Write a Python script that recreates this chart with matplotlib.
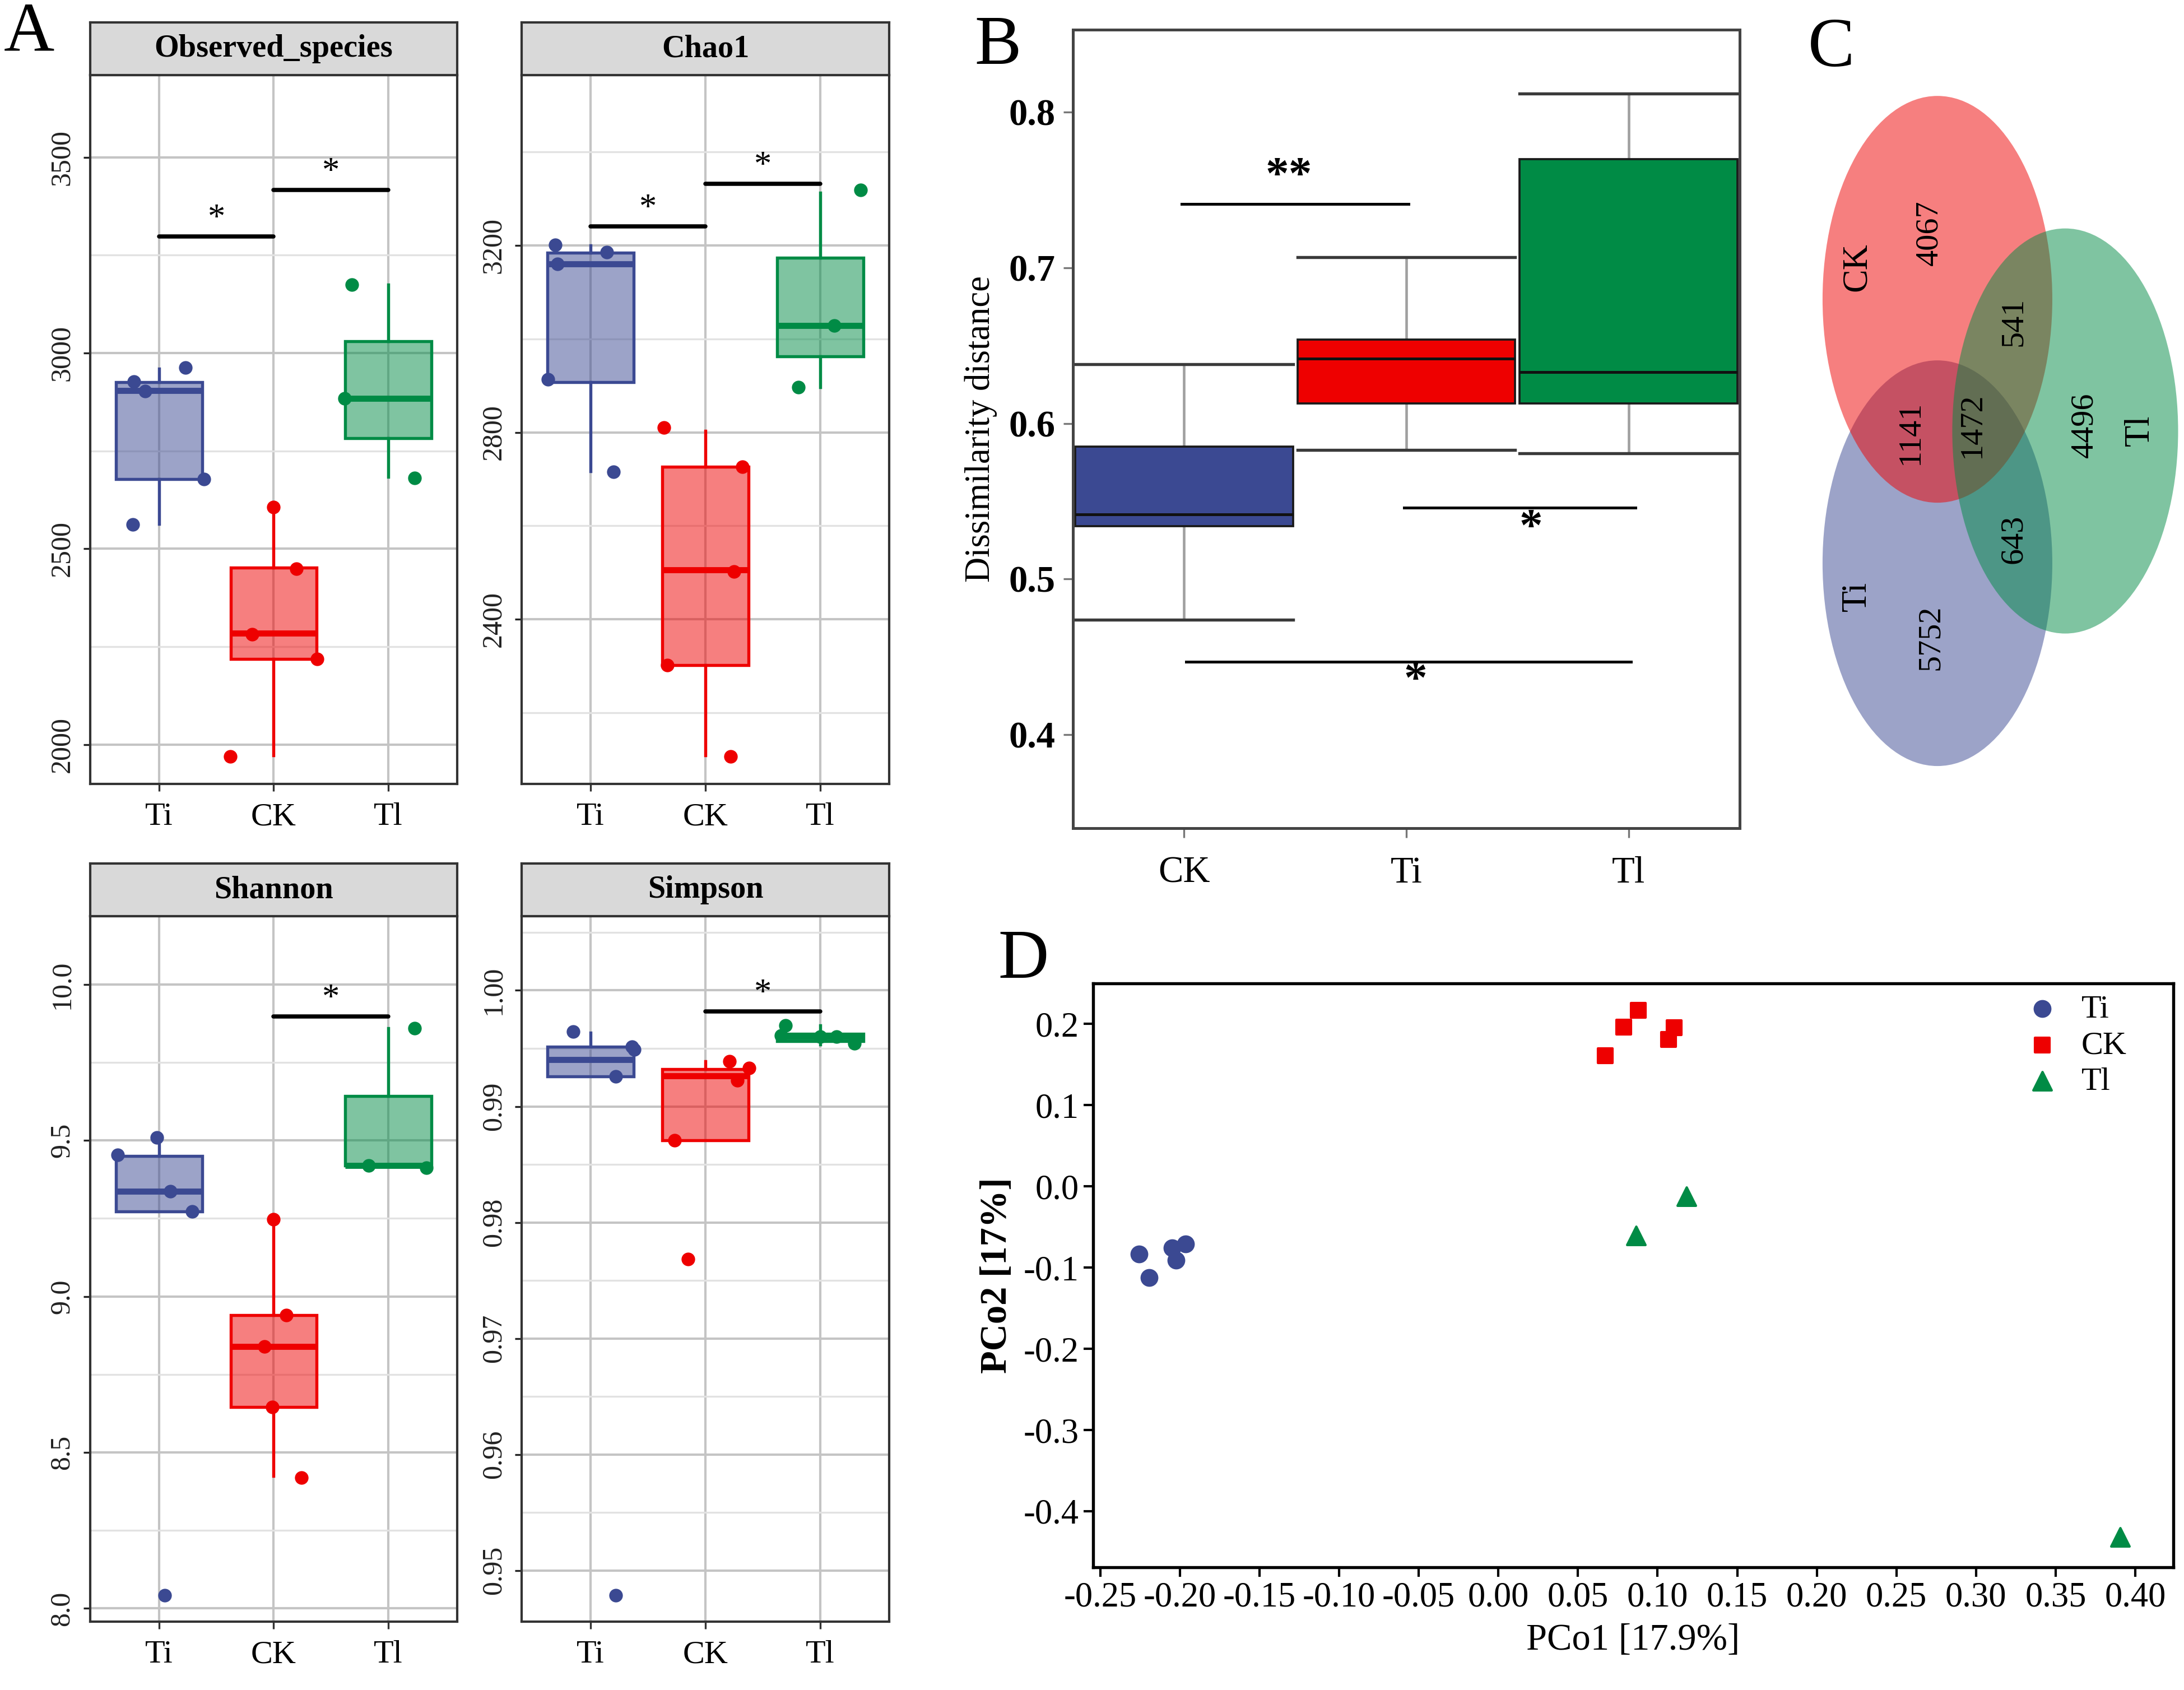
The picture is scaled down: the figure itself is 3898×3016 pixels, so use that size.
import matplotlib
matplotlib.use('Agg')
import matplotlib.pyplot as plt
from matplotlib.patches import Ellipse
from matplotlib.colors import to_rgba

plt.rcParams['font.family'] = ['Liberation Serif', 'DejaVu Serif']
plt.rcParams['axes.unicode_minus'] = False

# ---- colours (AAAS-like) ----
BLUE, RED, GREEN = '#3B4992', '#EE0000', '#008B45'

# ---- panel A: alpha diversity (order Ti, CK, Tl) ----
groups_a = ['Ti', 'CK', 'Tl']
colors_a = [BLUE, RED, GREEN]

obs_q1 = [2678, 2219, 2782]
obs_med = [2904, 2284, 2884]
obs_q3 = [2925, 2451, 3030]
obs_lo = [2564, 1972, 2684]
obs_hi = [2960, 2606, 3174]
obs_pts = [[2927, 2903, 2962, 2678, 2562], [2606, 2449, 2281, 2218, 1970], [3174, 2884, 2681]]
obs_jit = [[-0.22, -0.12, 0.23, 0.39, -0.23], [0.0, 0.20, -0.19, 0.38, -0.38], [-0.32, -0.38, 0.23]]
obs_sig = [(0, 1, 3297), (1, 2, 3416)]

chao_q1 = [2908, 2301, 2963]
chao_med = [3161, 2506, 3029]
chao_q3 = [3184, 2726, 3174]
chao_lo = [2717, 2108, 2897]
chao_hi = [3200, 2803, 3313]
chao_pts = [[3201, 3186, 3161, 2913, 2715], [2810, 2726, 2502, 2301, 2106], [3319, 3029, 2897]]
chao_jit = [[-0.31, 0.14, -0.29, -0.37, 0.20], [-0.36, 0.32, 0.25, -0.33, 0.22], [0.35, 0.12, -0.19]]
chao_sig = [(0, 1, 3241), (1, 2, 3332)]

shan_q1 = [9.273, 8.646, 9.420]
shan_med = [9.337, 8.840, 9.420]
shan_q3 = [9.451, 8.941, 9.642]
shan_lo = [9.273, 8.424, 9.420]
shan_hi = [9.505, 9.248, 9.859]
shan_pts = [[9.509, 9.453, 9.337, 9.273, 8.043], [9.248, 8.941, 8.840, 8.646, 8.420], [9.859, 9.420, 9.413]]
shan_jit = [[-0.02, -0.36, 0.10, 0.29, 0.05], [0.0, 0.11, -0.08, -0.01, 0.24], [0.23, -0.17, 0.33]]
shan_sig = [(1, 2, 9.898)]

simp_q1 = [0.99257, 0.98710, 0.99565]
simp_med = [0.99402, 0.99262, 0.99603]
simp_q3 = [0.99514, 0.99322, 0.99626]
simp_lo = [0.99257, 0.98710, 0.99533]
simp_hi = [0.99636, 0.99388, 0.99696]
simp_pts = [[0.99645, 0.99514, 0.99490, 0.99260, 0.94785],
            [0.99388, 0.99332, 0.99224, 0.98710, 0.97682],
            [0.99696, 0.99603, 0.99542, 0.99610, 0.99603]]
simp_jit = [[-0.15, 0.36, 0.38, 0.22, 0.22], [0.21, 0.38, 0.28, -0.27, -0.15], [-0.30, 0.14, 0.30, -0.34, 0.0]]
simp_sig = [(1, 2, 0.99818)]

# ---- panel B: dissimilarity distance (order CK, Ti, Tl) ----
groups_b = ['CK', 'Ti', 'Tl']
colors_b = [BLUE, RED, GREEN]
dist_q1 = [0.534, 0.613, 0.613]
dist_med = [0.5417, 0.6417, 0.633]
dist_q3 = [0.585, 0.654, 0.770]
dist_lo = [0.474, 0.583, 0.581]
dist_hi = [0.638, 0.707, 0.812]
dist_sig = [(-0.01, 1.01, 0.741, 0.47, 0.758, '**'),
            (0.99, 2.03, 0.546, 1.56, 0.532, '*'),
            (0.01, 2.01, 0.447, 1.04, 0.434, '*')]

# ---- panel C: Venn counts ----
venn_sets = ['CK', 'Tl', 'Ti']
venn_counts = {'CK': 4067, 'CK_Tl': 541, 'CK_Ti': 1141, 'all': 1472,
               'Tl': 4496, 'Ti_Tl': 643, 'Ti': 5752}

# ---- panel D: PCoA ----
pcoa_ti_x = [-0.2255, -0.2193, -0.2050, -0.2025, -0.1963]
pcoa_ti_y = [-0.0836, -0.1127, -0.0760, -0.0910, -0.0712]
pcoa_ck_x = [0.0670, 0.0787, 0.0880, 0.1070, 0.1104]
pcoa_ck_y = [0.1610, 0.1960, 0.2167, 0.1808, 0.1950]
pcoa_tl_x = [0.0864, 0.1180, 0.3906]
pcoa_tl_y = [-0.0607, -0.0124, -0.4320]

W, H = 3898, 3016
fig = plt.figure(figsize=(W / 300, H / 300), dpi=300, facecolor='white')


def alpha_panel(rect, title, q1, med, q3, lo, hi, pts, jit, sig, ylim, yticks, minor, fmt):
    ax = fig.add_axes(rect)
    stats = [dict(q1=q1[i], med=med[i], q3=q3[i], whislo=lo[i], whishi=hi[i], fliers=[])
             for i in range(3)]
    bp = ax.bxp(stats, positions=[0, 1, 2], widths=0.75, patch_artist=True,
                showcaps=False, showfliers=False)
    for i, c in enumerate(colors_a):
        bp['boxes'][i].set(facecolor=to_rgba(c, 0.5), edgecolor=c, linewidth=1.3, zorder=2)
        bp['medians'][i].set(color=c, linewidth=2.6, zorder=3)
        for w in bp['whiskers'][2 * i:2 * i + 2]:
            w.set(color=c, linewidth=1.3, zorder=1.9)
        ax.scatter([i + j for j in jit[i]], pts[i], s=34, color=c, zorder=4, linewidths=0)
    rng = ylim[1] - ylim[0]
    for a, b, y in sig:
        ax.plot([a, b], [y, y], color='black', lw=1.8, solid_capstyle='round', zorder=5)
        ax.text((a + b) / 2, y + 0.012 * rng, '*', ha='center', va='baseline', fontsize=15)
    ax.set_xlim(-0.6, 2.6)
    ax.set_ylim(*ylim)
    ax.set_yticks(yticks)
    ax.set_yticklabels([fmt.format(v) for v in yticks])
    ax.set_yticks(minor, minor=True)
    ax.set_xticks([0, 1, 2])
    ax.set_xticklabels(groups_a)
    ax.grid(True, which='major', color='#C4C4C4', lw=1.0, zorder=0)
    ax.grid(True, which='minor', axis='y', color='#E2E2E2', lw=0.8, zorder=0)
    ax.set_axisbelow(True)
    ax.tick_params(axis='y', which='minor', length=0)
    ax.tick_params(axis='both', which='major', length=3, color='#333333', labelsize=14)
    ax.tick_params(axis='x', pad=5)
    ax.tick_params(axis='y', labelrotation=90, labelsize=12, colors='#222222')
    for lab in ax.get_yticklabels():
        lab.set_va('center')
    for s in ax.spines.values():
        s.set_color('#333333')
        s.set_linewidth(1.0)
    # strip on top
    sx = fig.add_axes([rect[0], rect[1] + rect[3], rect[2], 0.031])
    sx.set_facecolor('#D9D9D9')
    sx.set_xticks([])
    sx.set_yticks([])
    for s in sx.spines.values():
        s.set_color('#333333')
        s.set_linewidth(1.0)
    sx.text(0.5, 0.5, title, ha='center', va='center', fontsize=13.5, fontweight='bold',
            transform=sx.transAxes)
    return ax


alpha_panel([0.0413, 0.5361, 0.1680, 0.4195], 'Observed_species', obs_q1, obs_med, obs_q3,
            obs_lo, obs_hi, obs_pts, obs_jit, obs_sig, (1899, 3710),
            [2000, 2500, 3000, 3500], [2250, 2750, 3250], '{:.0f}')
alpha_panel([0.2389, 0.5361, 0.1682, 0.4195], 'Chao1', chao_q1, chao_med, chao_q3,
            chao_lo, chao_hi, chao_pts, chao_jit, chao_sig, (2047, 3565),
            [2400, 2800, 3200], [2200, 2600, 3000, 3400], '{:.0f}')
alpha_panel([0.0413, 0.0405, 0.1680, 0.4174], 'Shannon', shan_q1, shan_med, shan_q3,
            shan_lo, shan_hi, shan_pts, shan_jit, shan_sig, (7.958, 10.219),
            [8.0, 8.5, 9.0, 9.5, 10.0], [8.25, 8.75, 9.25, 9.75], '{:.1f}')
alpha_panel([0.2389, 0.0405, 0.1682, 0.4174], 'Simpson', simp_q1, simp_med, simp_q3,
            simp_lo, simp_hi, simp_pts, simp_jit, simp_sig, (0.9456, 1.0064),
            [0.95, 0.96, 0.97, 0.98, 0.99, 1.00], [0.955, 0.965, 0.975, 0.985, 0.995, 1.005],
            '{:.2f}')

# ---- B ----
axb = fig.add_axes([0.4913, 0.510, 0.3053, 0.4724])
stats_b = [dict(q1=dist_q1[i], med=dist_med[i], q3=dist_q3[i], whislo=dist_lo[i],
                whishi=dist_hi[i], fliers=[]) for i in range(3)]
bpb = axb.bxp(stats_b, positions=[0, 1, 2], widths=0.98, patch_artist=True,
              showfliers=False, capwidths=0.98)
for i, c in enumerate(colors_b):
    bpb['boxes'][i].set(facecolor=c, edgecolor='#1a1a1a', linewidth=0.9, zorder=2)
    bpb['medians'][i].set(color='#111111', linewidth=1.2, zorder=3)
    for w in bpb['whiskers'][2 * i:2 * i + 2]:
        w.set(color='#A0A0A0', linewidth=1.1, zorder=1)
    for cp in bpb['caps'][2 * i:2 * i + 2]:
        cp.set(color='#3a3a3a', linewidth=1.3)
for x0, x1, y, tx, ty, lab in dist_sig:
    axb.plot([x0, x1], [y, y], color='black', lw=1.2)
    axb.text(tx, ty, lab, ha='center', va='center', fontsize=20, fontweight='bold')
axb.set_xlim(-0.5, 2.5)
axb.set_ylim(0.34, 0.853)
axb.set_xticks([0, 1, 2])
axb.set_xticklabels(groups_b, fontsize=16)
axb.set_yticks([0.4, 0.5, 0.6, 0.7, 0.8])
axb.set_yticklabels(['0.4', '0.5', '0.6', '0.7', '0.8'], fontsize=16, fontweight='bold')
axb.tick_params(axis='both', length=4, color='#777777')
axb.tick_params(axis='x', pad=8)
axb.set_ylabel('Dissimilarity distance', fontsize=15, labelpad=5)
for s in axb.spines.values():
    s.set_color('#444444')
    s.set_linewidth(1.2)

# ---- C: Venn ----
axc = fig.add_axes([0.8286, 0.5391, 0.1714, 0.4111])
axc.set_xlim(0, 668)
axc.set_ylim(1240, 0)
axc.axis('off')
venn_geom = {'Ti': ((228, 855), 410, 724, BLUE),
             'CK': ((228, 384), 410, 726, RED),
             'Tl': ((456, 619), 403, 723, GREEN)}
for name in ['Ti', 'CK', 'Tl']:
    (cx, cy), w, h, c = venn_geom[name]
    axc.add_patch(Ellipse((cx, cy), w, h, facecolor=to_rgba(c, 0.5), edgecolor='none'))
venn_text_pos = {'CK': (213, 266), 'CK_Tl': (364, 424), 'CK_Ti': (180, 622), 'all': (290, 609),
                 'Tl': (490, 609), 'Ti_Tl': (364, 812), 'Ti': (216, 988)}
for k, (x, y) in venn_text_pos.items():
    axc.text(x, y, str(venn_counts[k]), rotation=90, ha='center', va='center', fontsize=14)
for name, (x, y) in zip(['CK', 'Tl', 'Ti'], [(85, 326), (590, 618), (85, 914)]):
    axc.text(x, y, name, rotation=90, ha='center', va='center', fontsize=15)

# ---- D: PCoA ----
axd = fig.add_axes([0.5004, 0.0726, 0.4948, 0.3454])
axd.scatter(pcoa_ti_x, pcoa_ti_y, marker='o', s=44, color=BLUE, label='Ti', zorder=3)
axd.scatter(pcoa_ck_x, pcoa_ck_y, marker='s', s=40, color=RED, label='CK', zorder=3)
axd.scatter(pcoa_tl_x, pcoa_tl_y, marker='^', s=62, color=GREEN, label='Tl', zorder=3)
axd.set_xlim(-0.2546, 0.424)
axd.set_ylim(-0.469, 0.2495)
xt = [v / 100 for v in range(-25, 41, 5)]
yt = [v / 10 for v in range(-4, 3)]
axd.set_xticks(xt)
axd.set_xticklabels([f'{v:.2f}' for v in xt], fontsize=15)
axd.set_yticks(yt)
axd.set_yticklabels([f'{v:.1f}' for v in yt], fontsize=15)
axd.tick_params(axis='both', length=4, width=1.0, pad=2)
axd.set_xlabel('PCo1 [17.9%]', fontsize=16, labelpad=4)
axd.set_ylabel('PCo2 [17%]', fontsize=16, fontweight='bold', labelpad=4)
for s in axd.spines.values():
    s.set_color('black')
    s.set_linewidth(1.3)
axd.legend(loc='upper right', bbox_to_anchor=(0.975, 1.015), frameon=False, fontsize=14,
           handletextpad=0.2, labelspacing=0.2, borderaxespad=0.2)

# ---- panel letters ----
fig.text(0.0133, 0.999, 'A', ha='center', va='top', fontsize=30)
for lab, x, y in [('B', 0.457, 0.972), ('C', 0.8386, 0.9708), ('D', 0.4687, 0.4314)]:
    fig.text(x, y, lab, ha='center', va='center', fontsize=30)

fig.savefig('out.png', dpi=300, facecolor='white')
